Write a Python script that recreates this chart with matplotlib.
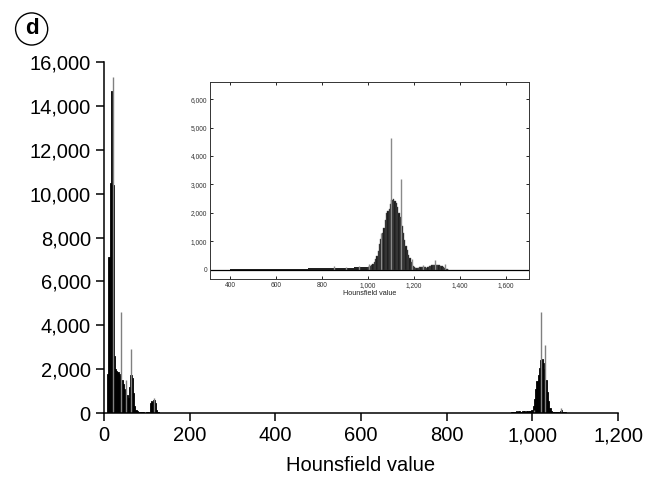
import matplotlib.pyplot as plt
from matplotlib.ticker import FuncFormatter

plt.rcParams["font.family"] = ["Liberation Sans", "DejaVu Sans"]

# main histogram: low-HU cluster (bin width 3)
low_hu = [9, 12, 15, 18, 21, 24, 27, 30, 33, 36, 39, 42, 45, 48, 51, 54, 57,
          60, 63, 66, 69, 72, 75, 78, 81, 84, 87, 90, 93, 96, 99, 102, 105,
          108, 111, 114, 117, 120, 123, 126]
low_counts = [1800, 7100, 10500, 14700, 10400, 2600, 2000, 1900, 1850, 1800,
              1700, 1500, 1300, 1100, 1050, 800, 700, 1200, 1750, 1600, 900,
              300, 120, 80, 60, 40, 30, 50, 30, 20, 40, 30, 60, 450, 560, 520,
              590, 450, 150, 30]

# main histogram: bone cluster (bin width 3)
high_hu = [951, 954, 957, 960, 963, 966, 969, 972, 975, 978, 981, 984, 987,
           990, 993, 996, 999, 1002, 1005, 1008, 1011, 1014, 1017, 1020, 1023,
           1026, 1029, 1032, 1035, 1038, 1041, 1044, 1047, 1050, 1053, 1056,
           1059, 1062, 1065, 1068, 1071, 1074, 1077]
high_counts = [30, 40, 60, 40, 70, 50, 80, 60, 50, 70, 90, 60, 80, 100, 70,
               90, 150, 300, 650, 1100, 1450, 1750, 2050, 2400, 2450, 2300,
               2000, 1500, 950, 550, 250, 90, 50, 40, 30, 40, 30, 50, 90, 150,
               60, 50, 40]

# single-value spikes drawn in grey
spike_hu = [20.5, 39, 51, 64, 117, 1003, 1021, 1029, 1068]
spike_counts = [15300, 4600, 1500, 2900, 680, 150, 4600, 3100, 230]

# inset histogram
inset_tail_hu = [410, 430, 450, 470, 490, 510, 530, 550, 570, 590, 610, 630,
                 650, 670, 690, 710, 730, 750, 770, 790, 810, 830, 850, 870,
                 890, 910, 930, 950, 970, 990]
inset_tail_counts = [20, 25, 20, 30, 25, 20, 40, 25, 30, 25, 30, 30, 35, 30,
                     40, 45, 40, 50, 55, 50, 60, 55, 70, 65, 75, 80, 70, 90,
                     100, 110]
inset_peak_hu = [1003, 1009, 1015, 1021, 1027, 1033, 1039, 1045, 1051, 1057,
                 1063, 1069, 1075, 1081, 1087, 1093, 1099, 1105, 1111, 1117,
                 1123, 1129, 1135, 1141, 1147, 1153, 1159, 1165, 1171, 1177,
                 1183, 1189, 1195, 1201, 1207, 1213, 1219, 1225, 1231, 1237,
                 1243, 1249, 1255, 1261, 1267, 1273, 1279, 1285, 1291, 1297,
                 1303, 1309, 1315, 1321, 1327, 1333, 1339, 1345, 1351]
inset_peak_counts = [110, 120, 160, 220, 290, 380, 480, 650, 900, 1100, 1300,
                     1480, 1750, 2000, 2080, 2150, 2300, 2460, 2480, 2420,
                     2350, 2200, 2000, 1850, 1550, 1290, 1050, 850, 700, 520,
                     400, 260, 150, 100, 70, 60, 70, 90, 100, 110, 100, 90, 80,
                     110, 130, 150, 165, 175, 180, 175, 170, 160, 150, 140,
                     110, 70, 40, 20, 10]
inset_spike_hu = [850, 905, 960, 1006, 1055, 1098, 1145, 1193, 1240, 1291, 1334]
inset_spike_counts = [120, 110, 130, 210, 1290, 4630, 3200, 375, 160, 330, 210]

comma = FuncFormatter(lambda v, pos: f"{int(v):,}")

fig = plt.figure(figsize=(6.59, 4.83), dpi=100)
ax = fig.add_axes([0.1578, 0.1449, 0.78, 0.7267])

ax.bar(low_hu, low_counts, width=3, color="black", edgecolor="black",
       linewidth=0.6)
ax.bar(high_hu, high_counts, width=3, color="black", edgecolor="black",
       linewidth=0.6)
ax.vlines(spike_hu, 0, spike_counts, color="#808080", linewidth=1.0)

ax.set_xlim(0, 1200)
ax.set_ylim(0, 16000)
ax.set_xticks(range(0, 1201, 200))
ax.set_yticks(range(0, 16001, 2000))
ax.xaxis.set_major_formatter(comma)
ax.yaxis.set_major_formatter(comma)
ax.spines["top"].set_visible(False)
ax.spines["right"].set_visible(False)
for side in ["left", "bottom"]:
    ax.spines[side].set_linewidth(1.1)
ax.tick_params(direction="out", length=6, width=1.1, labelsize=14.5)
ax.set_xlabel("Hounsfield value", fontsize=14.5, labelpad=8)

fig.text(0.048, 0.94, "d", fontsize=16, fontweight="bold", ha="center",
         va="center",
         bbox=dict(boxstyle="circle,pad=0.25", facecolor="white",
                   edgecolor="black", linewidth=1))

# inset
ins = fig.add_axes([0.3187, 0.4224, 0.484, 0.4078])
ins.bar(inset_tail_hu, inset_tail_counts, width=20, color="#222222",
        linewidth=0)
ins.bar(inset_peak_hu, inset_peak_counts, width=6, color="#111111",
        edgecolor="#555555", linewidth=0.3)
ins.vlines(inset_spike_hu, 0, inset_spike_counts, color="#8a8a8a",
           linewidth=1.0)
ins.axhline(0, color="black", linewidth=0.9)
ins.set_xlim(313, 1700)
ins.set_ylim(-320, 6600)
ins.set_xticks(range(400, 1601, 200))
ins.set_yticks(range(0, 6001, 1000))
ins.xaxis.set_major_formatter(comma)
ins.yaxis.set_major_formatter(comma)
for side in ins.spines.values():
    side.set_linewidth(0.7)
    side.set_color("#333333")
ins.tick_params(direction="in", length=2, width=0.6, labelsize=4.8,
                labelcolor="#333333", top=True, right=True, pad=2)
ins.set_xlabel("Hounsfield value", fontsize=5.2, color="#222222", labelpad=1)

fig.savefig("out.png", dpi=100)
